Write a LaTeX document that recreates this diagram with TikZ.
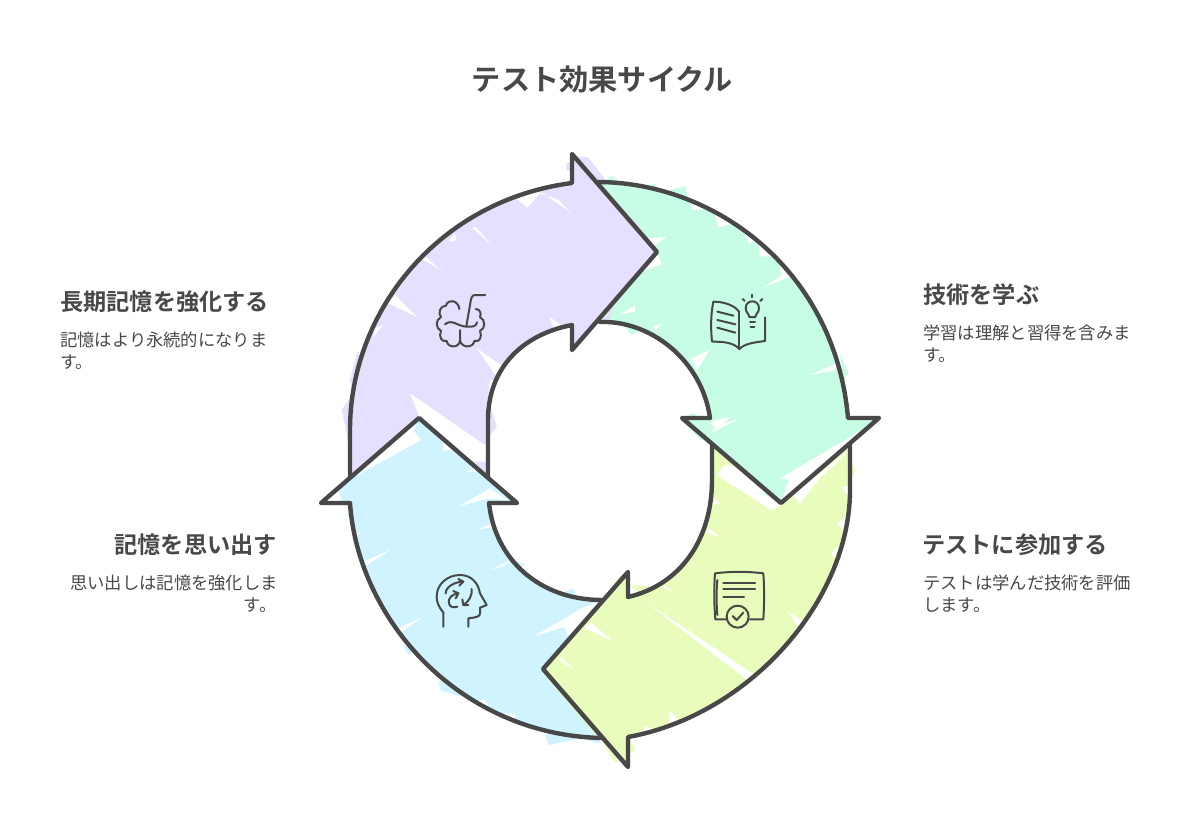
\documentclass[tikz,border=0pt]{standalone}
\usepackage{fontspec}
\setmainfont{Noto Sans CJK JP}[BoldFont={Noto Sans CJK JP Bold}]
\definecolor{ink}{HTML}{484848}
\definecolor{cpurple}{HTML}{E6E0FE}
\definecolor{cmint}{HTML}{C7FDE5}
\definecolor{clime}{HTML}{E8FDBC}
\definecolor{cblue}{HTML}{D0F4FF}
\tikzset{
  outline/.style={draw=ink,line width=4.4pt,line join=round,line cap=round},
  icon/.style={draw=ink,line width=2pt,line join=round,line cap=round},
  zm/.style={x=.33333pt,y=-.33333pt},
  gap/.style={fill=white},
  ttl/.style={font=\fontsize{29.2}{34}\selectfont\bfseries,text=ink,inner sep=0pt},
  hd/.style={font=\fontsize{23.2}{28}\selectfont\bfseries,text=ink,inner sep=0pt},
  bd/.style={font=\fontsize{17.3}{22}\selectfont,text=ink,inner sep=0pt}
}
\begin{document}
\begin{tikzpicture}[x=1pt,y=-1pt]
\useasboundingbox (0,0) rectangle (1200,839);
\fill[white] (0,0) rectangle (1200,839);
% ---------- purple fill
\fill[cpurple] (350,478) -- (350,430) .. controls (350,310) and (440,200) .. (572,183) -- (572,154) -- (657,252) -- (572,350) -- (572,325) .. controls (520,335) and (488,370) .. (488,420) -- (488,478) -- (419,418) -- cycle;
\begin{scope}[shift={(340,140)},zm]
\fill[cpurple] (5,810) -- (35,765) -- (60,900) -- (30,960) -- (20,880) -- cycle;
\fill[cpurple] (30,720) -- (52,635) -- (75,680) -- (40,770) -- cycle;
\fill[cpurple] (440,760) -- (470,860) -- (430,912) -- (400,890) -- cycle;
\fill[gap] (210,760) -- (430,912) -- (446,912) -- (446,965) -- (390,965) -- (240,835) -- cycle;
\fill[gap] (165,465) -- (232,532) -- (145,490) -- cycle;
\fill[gap] (258,350) -- (298,387) -- (250,360) -- cycle;
\fill[gap] (408,262) -- (456,316) -- (395,262) -- cycle;
\fill[gap] (610,160) -- (692,218) -- (655,180) -- (600,160) -- (562,203) -- (525,172) -- (500,165) -- (560,150) -- cycle;
\fill[gap] (410,625) -- (497,685) -- (468,708) -- cycle;
\fill[gap] (628,530) -- (662,555) -- (640,562) -- cycle;
\fill[gap] (577,588) -- (590,595) -- (580,600) -- cycle;
\fill[gap] (445,765) -- (480,725) -- (450,720) -- cycle;
\fill[gap] (325,305) -- (350,300) -- (345,280) -- cycle;
\fill[gap] (130,555) -- (100,590) -- (105,565) -- cycle;
\end{scope}
% ---------- blue fill
\fill[cblue] (350,503) .. controls (358,620) and (460,735) .. (602,738) -- (543,669) -- (628,572) -- (602,600) .. controls (540,600) and (495,560) .. (489,503) -- (517,503) -- (419,418) -- (321,503) -- cycle;
\begin{scope}[shift={(315,410)},zm]
\fill[cblue] (700,1005) -- (690,970) -- (860,985) -- (850,1000) -- (800,985) -- cycle;
\fill[cblue] (775,535) -- (800,595) -- (720,560) -- cycle;
\fill[cblue] (600,452) -- (630,462) -- (610,480) -- cycle;
\fill[cblue] (370,815) -- (378,842) -- (440,860) -- (400,800) -- cycle;
\fill[cblue] (95,285) -- (100,320) -- (130,300) -- cycle;
\fill[cblue] (260,700) -- (280,735) -- (300,720) -- cycle;
\fill[gap] (295,62) -- (318,90) -- (170,172) -- (105,205) -- (313,25) -- cycle;
\fill[gap] (22,280) -- (80,272) -- (70,240) -- (105,200) -- cycle;
\fill[gap] (525,235) -- (430,290) -- (518,265) -- (580,272) -- cycle;
\fill[gap] (530,340) -- (490,358) -- (530,352) -- cycle;
\fill[gap] (595,445) -- (525,480) -- (575,465) -- cycle;
\fill[gap] (230,418) -- (145,455) -- (155,465) -- cycle;
\fill[gap] (325,620) -- (240,660) -- (255,668) -- cycle;
\fill[gap] (800,595) -- (655,680) -- (748,650) -- (760,680) -- (820,640) -- (860,570) -- cycle;
\fill[gap] (452,185) -- (490,172) -- (480,185) -- cycle;
\fill[gap] (125,370) -- (140,365) -- (125,380) -- cycle;
\fill[gap] (340,40) -- (385,92) -- (385,125) -- (440,110) -- (520,205) -- (313,25) -- cycle;
\fill[gap] (420,830) -- (440,860) -- (480,875) -- (510,868) -- (530,910) -- (570,910) -- (600,912) -- (600,935) -- (480,880) -- cycle;
\fill[gap] (660,945) -- (700,970) -- (690,975) -- cycle;
\end{scope}
% ---------- lime fill
\fill[clime] (850,445) -- (850,490) .. controls (850,600) and (750,715) .. (628,737) -- (628,767) -- (543,669) -- (628,572) -- (628,597) .. controls (680,585) and (712,540) .. (712,480) -- (712,443) -- (781,503) -- cycle;
\begin{scope}[shift={(540,430)},zm]
\fill[clime] (225,1000) -- (285,960) -- (268,925) -- (180,920) -- cycle;
\fill[clime] (268,465) -- (345,470) -- (300,490) -- cycle;
\fill[clime] (5,725) -- (15,720) -- (185,925) -- (175,925) -- cycle;
\fill[clime] (945,125) -- (925,60) -- (890,110) -- (930,150) -- cycle;
\fill[clime] (490,260) -- (510,230) -- (520,280) -- cycle;
\fill[clime] (220,460) -- (250,430) -- (262,470) -- cycle;
\fill[gap] (600,110) -- (555,105) -- (530,135) -- (695,242) -- (722,225) -- cycle;
\fill[gap] (760,195) -- (780,222) -- (838,145) -- (882,108) -- (928,60) -- (720,222) -- cycle;
\fill[gap] (320,518) -- (652,740) -- (628,755) -- cycle;
\fill[gap] (150,575) -- (216,632) -- (135,595) -- cycle;
\fill[gap] (60,680) -- (106,722) -- (55,690) -- cycle;
\fill[gap] (742,545) -- (795,575) -- (775,590) -- cycle;
\fill[gap] (505,295) -- (542,322) -- (500,308) -- cycle;
\fill[gap] (370,465) -- (400,485) -- (372,475) -- cycle;
\fill[gap] (390,840) -- (412,868) -- (385,880) -- cycle;
\fill[gap] (558,790) -- (590,812) -- (565,802) -- cycle;
\fill[gap] (490,830) -- (512,842) -- (483,858) -- cycle;
\fill[gap] (320,888) -- (342,902) -- (305,906) -- cycle;
\fill[gap] (872,368) -- (900,345) -- (900,400) -- cycle;
\fill[gap] (892,280) -- (915,262) -- (915,315) -- cycle;
\fill[gap] (908,172) -- (928,165) -- (925,205) -- cycle;
\fill[gap] (855,455) -- (872,435) -- (862,470) -- cycle;
\fill[gap] (522,205) -- (540,220) -- (520,225) -- cycle;
\end{scope}
% ---------- mint fill
\fill[cmint] (597,182) .. controls (715,182) and (835,270) .. (848,418) -- (879,418) -- (781,503) -- (682,418) -- (710,418) .. controls (702,360) and (650,320) .. (598,322) -- (657,252) -- cycle;
\begin{scope}[shift={(570,140)},zm]
\fill[cmint] (110,115) -- (128,108) -- (150,128) -- (120,140) -- cycle;
\fill[cmint] (300,150) -- (345,138) -- (358,190) -- (320,175) -- cycle;
\fill[cmint] (230,135) -- (258,132) -- (255,155) -- cycle;
\fill[cmint] (140,470) -- (200,490) -- (150,540) -- (185,585) -- (225,560) -- (150,480) -- cycle;
\fill[cmint] (360,822) -- (375,820) -- (425,880) -- (392,900) -- (345,850) -- cycle;
\fill[cmint] (555,1060) -- (590,1065) -- (632,1095) -- (640,1060) -- cycle;
\fill[cmint] (720,510) -- (740,540) -- (730,560) -- cycle;
\fill[cmint] (810,640) -- (835,700) -- (820,720) -- cycle;
\fill[gap] (290,290) -- (238,295) -- (250,318) -- cycle;
\fill[gap] (275,372) -- (215,395) -- (262,338) -- cycle;
\fill[gap] (195,497) -- (150,522) -- (195,515) -- cycle;
\fill[gap] (275,550) -- (250,560) -- (258,572) -- cycle;
\fill[gap] (420,628) -- (365,655) -- (380,692) -- cycle;
\fill[gap] (662,410) -- (580,442) -- (635,405) -- (622,350) -- (640,370) -- cycle;
\fill[gap] (810,665) -- (720,705) -- (792,692) -- cycle;
\fill[gap] (510,835) -- (420,880) -- (440,858) -- cycle;
\fill[gap] (862,878) -- (630,1015) -- (656,1020) -- (645,1050) -- (632,1088) -- (780,962) -- (925,838) -- cycle;
\fill[gap] (435,225) -- (445,262) -- (490,250) -- (470,225) -- cycle;
\fill[gap] (525,280) -- (535,310) -- (565,300) -- (570,350) -- (610,350) -- (575,295) -- cycle;
\fill[gap] (360,195) -- (370,210) -- (430,205) -- (390,185) -- cycle;
\fill[gap] (440,840) -- (480,830) -- (445,870) -- (420,850) -- cycle;
\end{scope}
% purple head spill over the mint tail
\begin{scope}[shift={(340,140)},zm]
\fill[cpurple] (678,72) -- (695,65) -- (695,92) -- (680,92) -- cycle;
\fill[cpurple] (700,48) -- (745,52) -- (795,118) -- (770,128) -- cycle;
\end{scope}
\begin{scope}[shift={(570,140)},zm]
\fill[cpurple] (150,200) -- (200,248) -- (258,335) -- cycle;
\fill[cpurple] (100,535) -- (140,495) -- (112,545) -- cycle;
\end{scope}
% ---------- outlines
\draw[outline] (350,476) -- (350,430) .. controls (350,310) and (440,200) .. (572,183) -- (572,154) -- (657,252) -- (572,350) -- (572,325) .. controls (520,335) and (488,370) .. (488,420) -- (488,476);
\draw[outline] (597,182) .. controls (715,182) and (835,270) .. (848,418) -- (879,418) -- (781,503) -- (682,418) -- (710,418) .. controls (702,360) and (650,320) .. (600,322);
\draw[outline] (850,445) -- (850,490) .. controls (850,600) and (750,715) .. (628,737) -- (628,767) -- (543,669) -- (628,572) -- (628,597) .. controls (680,585) and (712,540) .. (712,480) -- (712,445);
\draw[outline] (602,738) .. controls (460,735) and (358,620) .. (350,503) -- (321,503) -- (419,418) -- (517,503) -- (489,503) .. controls (495,560) and (540,600) .. (602,600);
% ---------- icons
\begin{scope}[shift={(425,285)},zm]
\draw[icon] (103,72) .. controls (100,45) and (68,40) .. (63,62) .. controls (45,62) and (38,85) .. (48,96) .. controls (30,105) and (32,130) .. (48,138) .. controls (40,155) and (50,172) .. (65,168) .. controls (68,190) and (105,190) .. (105,165) -- (105,135);
\draw[icon] (105,165) .. controls (108,190) and (145,190) .. (148,168) .. controls (165,172) and (172,155) .. (165,138) .. controls (182,130) and (182,105) .. (165,96) .. controls (170,85) and (165,72) .. (152,72);
\draw[icon] (60,118) .. controls (80,100) and (100,125) .. (125,125) .. controls (140,126) and (155,125) .. (156,112);
\draw[icon] (181,30) -- (150,30) .. controls (140,30) and (138,40) .. (135,60) -- (124,124);
\end{scope}
\begin{scope}[shift={(700,285)},zm]
\draw[icon] (118,82) .. controls (105,60) and (70,50) .. (40,50) .. controls (32,90) and (32,130) .. (36,170) .. controls (70,170) and (100,172) .. (118,192) .. controls (135,175) and (165,172) .. (195,168) -- (195,97);
\draw[icon] (118,82) -- (118,192);
\draw[icon] (52,80) -- (100,92);
\draw[icon] (52,105) -- (106,118);
\draw[icon] (52,128) -- (106,143);
\draw[icon] (148,96) .. controls (148,88) and (137,82) .. (137,70) .. controls (137,42) and (177,42) .. (177,70) .. controls (177,82) and (166,88) .. (166,96) -- cycle;
\draw[icon] (150,110) -- (165,110);
\draw[icon] (152,126) -- (163,126);
\draw[icon] (157,29) -- (157,37);
\draw[icon] (128,42) -- (134,48);
\draw[icon] (187,42) -- (181,48);
\end{scope}
\begin{scope}[shift={(700,560)},zm]
\draw[icon] (78,178) -- (46,178) .. controls (42,130) and (42,80) .. (45,40) .. controls (95,34) and (140,34) .. (190,40) .. controls (193,80) and (193,130) .. (190,178) -- (150,178);
\draw[icon] (52,60) .. controls (49,90) and (49,130) .. (52,165);
\draw[icon,line width=2.3pt] (70,70) -- (165,70);
\draw[icon,line width=2.3pt] (70,88) -- (165,88);
\draw[icon] (70,110) -- (132,110);
\draw[icon] (113,170) circle[radius=33];
\draw[icon] (98,168) -- (110,180) -- (130,158);
\end{scope}
\begin{scope}[shift={(425,565)},zm]
\draw[icon] (55,185) -- (55,142) .. controls (40,125) and (35,110) .. (35,95) .. controls (35,55) and (70,30) .. (105,30) .. controls (140,30) and (160,55) .. (165,85) -- (185,120) -- (165,128) -- (165,145) .. controls (165,155) and (155,157) .. (130,160) -- (130,185);
\draw[icon] (62,85) .. controls (62,65) and (90,50) .. (115,50);
\draw[icon] (100,42) -- (115,50) -- (103,62);
\draw[icon] (100,85) .. controls (80,88) and (68,100) .. (72,115) .. controls (75,128) and (85,128) .. (97,125);
\draw[icon] (85,78) -- (100,85) -- (92,100);
\draw[icon] (140,72) .. controls (142,95) and (130,110) .. (115,120);
\draw[icon] (112,103) -- (115,120) -- (130,120);
\end{scope}
% ---------- texts
\node[ttl] (title) at (602.5,80) {テスト効果サイクル};
\node[hd,anchor=west] (h1) at (60,302) {長期記憶を強化する};
\node[bd,anchor=west] (b1a) at (60,340) {記憶はより永続的になりま};
\node[bd,anchor=west] (b1b) at (60,362) {す。};
\node[hd,anchor=west] (h2) at (923,295) {技術を学ぶ};
\node[bd,anchor=west] (b2a) at (923,333) {学習は理解と習得を含みま};
\node[bd,anchor=west] (b2b) at (923,355) {す。};
\node[hd,anchor=east] (h3) at (277,545) {記憶を思い出す};
\node[bd,anchor=east] (b3a) at (278,583) {思い出しは記憶を強化しま};
\node[bd,anchor=east] (b3b) at (277,605) {す。};
\node[hd,anchor=west] (h4) at (922,545) {テストに参加する};
\node[bd,anchor=west] (b4a) at (923,583) {テストは学んだ技術を評価};
\node[bd,anchor=west] (b4b) at (923,605) {します。};
\end{tikzpicture}
\end{document}
